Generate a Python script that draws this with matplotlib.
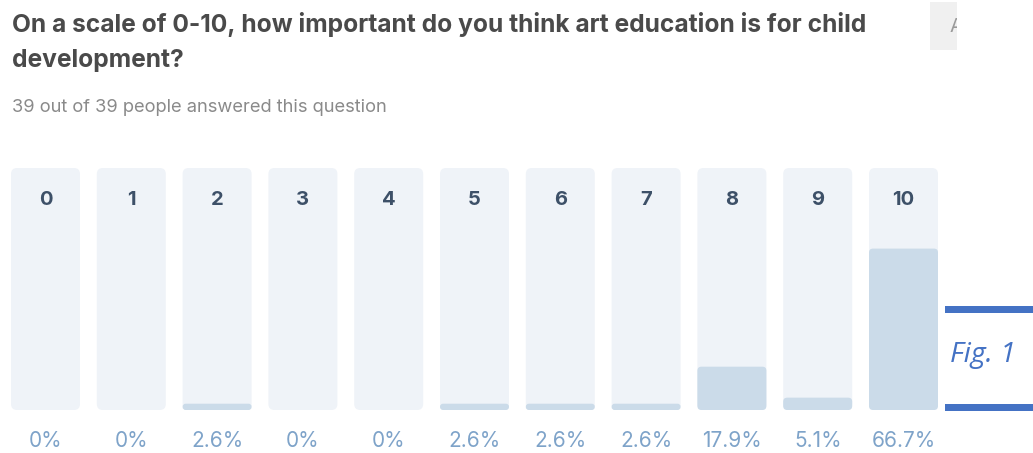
import matplotlib
matplotlib.use('Agg')
import matplotlib.pyplot as plt
from matplotlib.patches import FancyBboxPatch, Rectangle

W, H = 1033, 453

TITLE_LINES = ['On a scale of 0-10, how important do you think art education is for child',
               'development?']
SUBTITLE = '39 out of 39 people answered this question'
SCORES = ['0', '1', '2', '3', '4', '5', '6', '7', '8', '9', '10']
PERCENTS = [0, 0, 2.6, 0, 0, 2.6, 2.6, 2.6, 17.9, 5.1, 66.7]
PERCENT_LABELS = ['0%', '0%', '2.6%', '0%', '0%', '2.6%', '2.6%', '2.6%',
                  '17.9%', '5.1%', '66.7%']

BG_COLOR = '#eff3f8'
FILL_COLOR = '#cbdbe9'
NUM_COLOR = '#3d5068'
PCT_COLOR = '#7ea3c9'
FIG_BLUE = '#4472c4'

# pixel layout of the columns
COL_X0 = 45.5      # centre of first column, px
COL_STEP = 85.8    # px between columns
COL_W = 69         # px
Y_BOTTOM = 410     # px from top, 0 %
Y_TOP = 168        # px from top, 100 %
PX_PER_PCT = (Y_BOTTOM - Y_TOP) / 100.0


def fx(px):
    return px / W


def fy(py):
    return 1 - py / H


def main():
    fig = plt.figure(figsize=(W / 100, H / 100), dpi=100)
    ax = fig.add_axes([0, 0, 1, 1])
    ax.set_xlim(-COL_X0 / COL_STEP, (W - COL_X0) / COL_STEP)
    ymin = -(H - Y_BOTTOM) / PX_PER_PCT
    ax.set_ylim(ymin, ymin + H / PX_PER_PCT)
    ax.axis('off')

    aspect = COL_STEP / PX_PER_PCT
    bw = COL_W / COL_STEP
    for i, (score, pct, lab) in enumerate(zip(SCORES, PERCENTS, PERCENT_LABELS)):
        bg = FancyBboxPatch((i - bw / 2, 0), bw, 100,
                            boxstyle='round,pad=0,rounding_size=%f' % (6 / COL_STEP),
                            mutation_aspect=aspect, fc=BG_COLOR, ec='none')
        ax.add_patch(bg)
        if pct > 0:
            r = min(4, pct * PX_PER_PCT / 2 - 0.1) / COL_STEP
            fill = FancyBboxPatch((i - bw / 2, 0), bw, pct,
                                  boxstyle='round,pad=0,rounding_size=%f' % r,
                                  mutation_aspect=aspect, fc=FILL_COLOR, ec='none')
            ax.add_patch(fill)
        ax.text(i, (Y_BOTTOM - 200) / PX_PER_PCT, score, ha='center', va='center',
                fontsize=14.5, fontweight='bold', color=NUM_COLOR, family='Inter')
        ax.text(i, -(441 - Y_BOTTOM) / PX_PER_PCT, lab, ha='center', va='center',
                fontsize=15, color=PCT_COLOR, family='Inter')

    for line, base in zip(TITLE_LINES, (32, 67)):
        fig.text(fx(12), fy(base), line, ha='left', va='baseline', fontsize=17.7,
                 fontweight='bold', color='#4a4a4a', family='Inter')
    fig.text(fx(12), fy(112), SUBTITLE, ha='left', va='baseline', fontsize=13.2,
             color='#8a8a8a', family='Inter')

    # partially visible button in the top right
    box = Rectangle((fx(930), fy(50)), fx(27), 48 / H, transform=fig.transFigure,
                    fc='#f0f0f0', ec='none')
    fig.add_artist(box)
    t = fig.text(fx(949), fy(27), 'A', ha='left', va='center', fontsize=14,
                 color='#9a9a9a', family='Inter')
    t.set_clip_path(box)

    # figure caption
    for yy in (309, 407):
        fig.add_artist(Rectangle((fx(945), fy(yy + 3.5)), fx(W - 945), 7 / H,
                                 transform=fig.transFigure, fc=FIG_BLUE, ec='none'))
    fig.text(fx(950), fy(355), 'Fig. 1', ha='left', va='center', fontsize=20.5,
             style='italic', color=FIG_BLUE, family='Open Sans')

    fig.savefig('out.png', dpi=100)


if __name__ == '__main__':
    main()
